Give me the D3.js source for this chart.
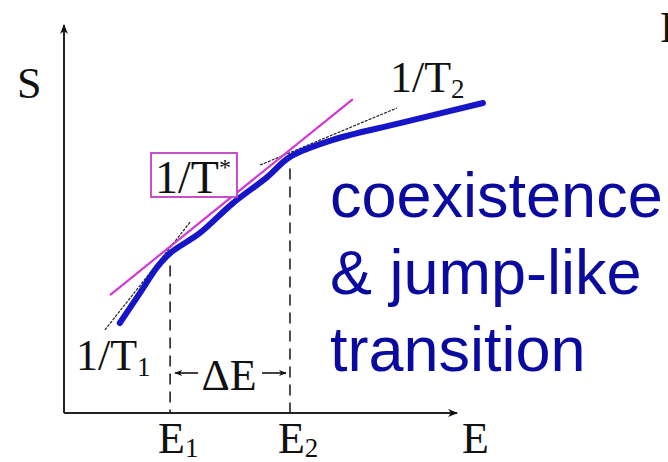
<!DOCTYPE html>
<html>
<head>
<meta charset="utf-8">
<script src="https://cdn.jsdelivr.net/npm/d3@7"></script>
<style>
  html, body { margin: 0; padding: 0; background: #fff; overflow: hidden; }
  .serif { font-family: "Liberation Serif", "DejaVu Serif", serif; fill: #111; }
</style>
</head>
<body>
<div id="chart"></div>
<script>
// S(E) curve, arbitrary units
const curveE = [1.42, 1.93, 2.37, 2.70, 3.46, 4.30, 5.17, 5.75, 6.84, 8.55, 10.66];
const curveS = [2.32, 3.09, 3.76, 4.12, 4.64, 5.41, 6.08, 6.60, 7.04, 7.47, 7.99];

// common tangent 1/T* and the two local tangents
const tStarE = [1.17, 7.35], tStarS = [3.04, 8.09];
const t1E = [1.04, 3.21], t1S = [2.14, 4.92];
const t2E = [4.99, 8.47], t2S = [6.39, 7.86];

// phase boundaries
const boundaryE = [2.70, 5.75];
const boundaryS = [3.80, 6.30];
const boundaryLabels = ["1", "2"];

const textLines = ["coexistence", "& jump-like", "transition"];

const W = 668, H = 462;
const x = d3.scaleLinear().domain([0, 10]).range([64, 457]);
const y = d3.scaleLinear().domain([0, 10]).range([413, 25]);
const fs = 44, sub = 27;

const svg = d3.select('#chart').append('svg')
    .attr('width', W).attr('height', H);

const defs = svg.append('defs');
defs.append('marker')
    .attr('id', 'head')
    .attr('viewBox', '0 0 10 10')
    .attr('refX', 9).attr('refY', 5)
    .attr('markerWidth', 5).attr('markerHeight', 5)
    .attr('orient', 'auto-start-reverse')
    .append('path').attr('d', 'M0,1 L10,5 L0,9 L3,5 Z').attr('fill', '#111');

// axes with arrow heads
svg.append('line')
    .attr('x1', x(0)).attr('y1', y(0)).attr('x2', x(10)).attr('y2', y(0))
    .attr('stroke', '#222').attr('stroke-width', 2)
    .attr('marker-end', 'url(#head)');
svg.append('line')
    .attr('x1', x(0)).attr('y1', y(0)).attr('x2', x(0)).attr('y2', y(10))
    .attr('stroke', '#222').attr('stroke-width', 2)
    .attr('marker-end', 'url(#head)');

// dashed verticals at E1, E2
svg.selectAll('line.bound')
    .data(boundaryE)
    .enter().append('line')
    .attr('class', 'bound')
    .attr('x1', d => x(d)).attr('x2', d => x(d))
    .attr('y1', (d, i) => y(boundaryS[i])).attr('y2', y(0))
    .attr('stroke', '#222').attr('stroke-width', 1.6)
    .attr('stroke-dasharray', '11,7');

const line = d3.line().x(d => x(d[0])).y(d => y(d[1]));

// thin tangents 1/T1, 1/T2
[[t1E, t1S], [t2E, t2S]].forEach(([es, ss]) => {
    svg.append('path')
        .attr('d', line(d3.zip(es, ss)))
        .attr('stroke', '#222').attr('stroke-width', 1.2)
        .attr('stroke-dasharray', '3,1.2')
        .attr('fill', 'none');
});

// magenta common tangent
svg.append('path')
    .attr('d', line(d3.zip(tStarE, tStarS)))
    .attr('stroke', '#d23ad2').attr('stroke-width', 2.2)
    .attr('fill', 'none');

// blue S(E)
svg.append('path')
    .attr('d', line.curve(d3.curveCatmullRom)(d3.zip(curveE, curveS)))
    .attr('stroke', '#1616c8').attr('stroke-width', 6)
    .attr('stroke-linecap', 'round')
    .attr('fill', 'none');

// axis labels
svg.append('text').attr('class', 'serif')
    .attr('x', 17).attr('y', 98).attr('font-size', fs).text('S');
svg.append('text').attr('class', 'serif')
    .attr('x', 462).attr('y', 453).attr('font-size', fs).text('E');

boundaryE.forEach((e, i) => {
    const t = svg.append('text').attr('class', 'serif')
        .attr('x', x(e) - 12).attr('y', 453).attr('font-size', fs);
    t.append('tspan').text('E');
    t.append('tspan').attr('font-size', sub).attr('dy', 4).text(boundaryLabels[i]);
});

// ΔE with arrows
const dE = (boundaryE[0] + boundaryE[1]) / 2;
svg.append('text').attr('class', 'serif')
    .attr('x', x(dE) - 1).attr('y', 390).attr('font-size', fs)
    .attr('text-anchor', 'middle').text('ΔE');
svg.append('line')
    .attr('x1', x(boundaryE[0]) + 28).attr('x2', x(boundaryE[0]) + 5)
    .attr('y1', 373).attr('y2', 373)
    .attr('stroke', '#111').attr('stroke-width', 1.6)
    .attr('marker-end', 'url(#head)');
svg.append('line')
    .attr('x1', x(boundaryE[1]) - 28).attr('x2', x(boundaryE[1]) - 4)
    .attr('y1', 373).attr('y2', 373)
    .attr('stroke', '#111').attr('stroke-width', 1.6)
    .attr('marker-end', 'url(#head)');

// 1/T1 label
const l1 = svg.append('text').attr('class', 'serif')
    .attr('x', 76).attr('y', 370).attr('font-size', fs);
l1.append('tspan').text('1/T');
l1.append('tspan').attr('font-size', sub).attr('dy', 6).text('1');

// 1/T2 label
const l2 = svg.append('text').attr('class', 'serif')
    .attr('x', 390).attr('y', 92).attr('font-size', fs);
l2.append('tspan').text('1/T');
l2.append('tspan').attr('font-size', sub).attr('dy', 6).text('2');

// 1/T* boxed label
svg.append('rect')
    .attr('x', 151).attr('y', 153).attr('width', 86).attr('height', 44)
    .attr('fill', '#fff').attr('stroke', '#c23cc2').attr('stroke-width', 1.8);
const ls = svg.append('text').attr('class', 'serif')
    .attr('x', 155).attr('y', 193).attr('font-size', fs + 2);
ls.append('tspan').text('1/T');
ls.append('tspan').attr('font-size', 24).attr('dy', -18).text('*');

// cropped glyph at the top right edge
svg.append('text').attr('class', 'serif')
    .attr('x', 660).attr('y', 42).attr('font-size', fs).text('F');

// blue annotation
svg.selectAll('text.note')
    .data(textLines)
    .enter().append('text')
    .attr('class', 'note')
    .attr('x', 330)
    .attr('y', (d, i) => 217 + i * 77)
    .attr('font-family', '"Liberation Sans", Arial, sans-serif')
    .attr('font-size', 63)
    .attr('fill', '#0a0aa0')
    .text(d => d);
</script>
</body>
</html>
